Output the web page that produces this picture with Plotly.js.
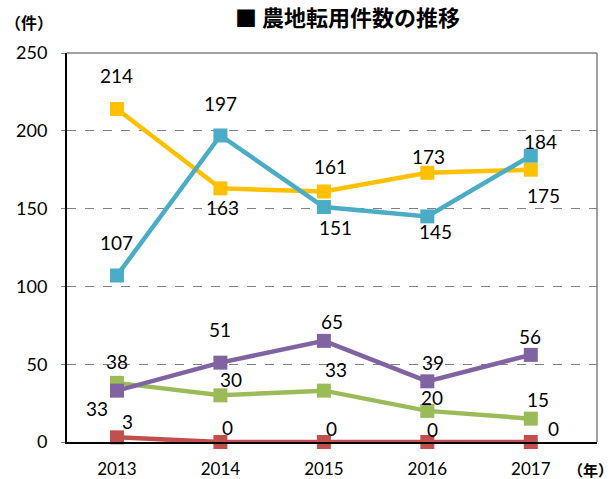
<!DOCTYPE html>
<html><head><meta charset="utf-8">
<script src="https://cdn.plot.ly/plotly-3.0.1.min.js"></script>
<style>html,body{margin:0;padding:0;background:#fff;}#chart{width:614px;height:479px;}</style>
</head><body><div id="chart"></div>
<script>
const years = ["2013", "2014", "2015", "2016", "2017"];
const seriesOrange = [214, 163, 161, 173, 175];
const seriesBlue = [107, 197, 151, 145, 184];
const seriesPurple = [33, 51, 65, 39, 56];
const seriesGreen = [38, 30, 33, 20, 15];
const seriesRed = [3, 0, 0, 0, 0];
const yTicks = [0, 50, 100, 150, 200, 250];

const xIdx = years.map((_, i) => i);
const FONT = "Lato, 'Noto Sans', sans-serif";
const CJK = "'Noto Sans CJK JP', sans-serif";

// label offsets in px (dx, dy with dy positive = down)
const series = [
  {name: "赤", vals: seriesRed, color: "#C0504D", off: [[11,-16],[7,-15],[8,-14],[5,-13],[23,-14]]},
  {name: "緑", vals: seriesGreen, color: "#9BBB59", off: [[0,-21],[11,-16],[12,-21],[5,-13],[7,-19]]},
  {name: "紫", vals: seriesPurple, color: "#8064A2", off: [[-20,18],[0,-33],[8,-19],[6,-19],[-1,-18]]},
  {name: "橙", vals: seriesOrange, color: "#FFC000", off: [[0,-34],[2,19],[7,-25],[1,-16],[13,26]]},
  {name: "青", vals: seriesBlue, color: "#4BACC6", off: [[0,-33],[0,-32],[12,20],[8,15],[10,-14]]}
];

const traces = series.map(s => ({
  type: "scatter", mode: "lines+markers", x: xIdx, y: s.vals, name: s.name,
  line: {color: s.color, width: 4.5},
  marker: {symbol: "square", size: 14, color: s.color},
  cliponaxis: false, hoverinfo: "skip", showlegend: false
}));

const annotations = [];
series.forEach(s => {
  s.vals.forEach((v, i) => {
    annotations.push({
      xref: "x", yref: "y", x: i, y: v, text: String(v), showarrow: false,
      xshift: s.off[i][0], yshift: -s.off[i][1],
      font: {family: FONT, size: 19, color: "#000"}
    });
  });
});
annotations.push({xref: "paper", yref: "paper", x: 0.530, y: 1, yshift: 37, xanchor: "center", yanchor: "middle",
  text: "<b>■ 農地転用件数の推移</b>", showarrow: false, font: {family: CJK, size: 22, color: "#000"}});
annotations.push({xref: "paper", yref: "paper", x: -0.12, y: 1, yshift: 31, xanchor: "left", yanchor: "middle",
  text: "<b>（件）</b>", showarrow: false, font: {family: CJK, size: 16, color: "#000"}});
annotations.push({xref: "paper", yref: "paper", x: 1.0, y: 0, xshift: -31, yshift: -27, xanchor: "left", yanchor: "middle",
  text: "<b>（年）</b>", showarrow: false, font: {family: CJK, size: 15, color: "#000"}});

const layout = {
  width: 614, height: 479,
  margin: {l: 67, r: 17, t: 53, b: 37},
  paper_bgcolor: "#fff", plot_bgcolor: "#fff",
  xaxis: {
    range: [-0.483, 4.64], tickvals: xIdx, ticktext: years, showgrid: false, zeroline: false,
    showline: true, linecolor: "#000", linewidth: 2, ticks: "",
    tickfont: {family: FONT, size: 17, color: "#000"}, ticklabelstandoff: 11
  },
  yaxis: {
    range: [0, 250], tickvals: yTicks, showgrid: true, gridcolor: "#808080", griddash: "dash", gridwidth: 1,
    zeroline: false, showline: true, linecolor: "#000", linewidth: 2,
    ticks: "outside", ticklen: 4, tickcolor: "#808080",
    tickfont: {family: FONT, size: 18, color: "#000"}, ticklabelstandoff: 10
  },
  shapes: [
    {type: "line", xref: "paper", yref: "paper", x0: 0, x1: 1, y0: 1, y1: 1, line: {color: "#808080", width: 1.5}},
    {type: "line", xref: "paper", yref: "paper", x0: 1, x1: 1, y0: 0, y1: 1, line: {color: "#808080", width: 1.5}}
  ],
  annotations: annotations
};

Plotly.newPlot("chart", traces, layout, {displayModeBar: false, staticPlot: true});
</script>
</body></html>
